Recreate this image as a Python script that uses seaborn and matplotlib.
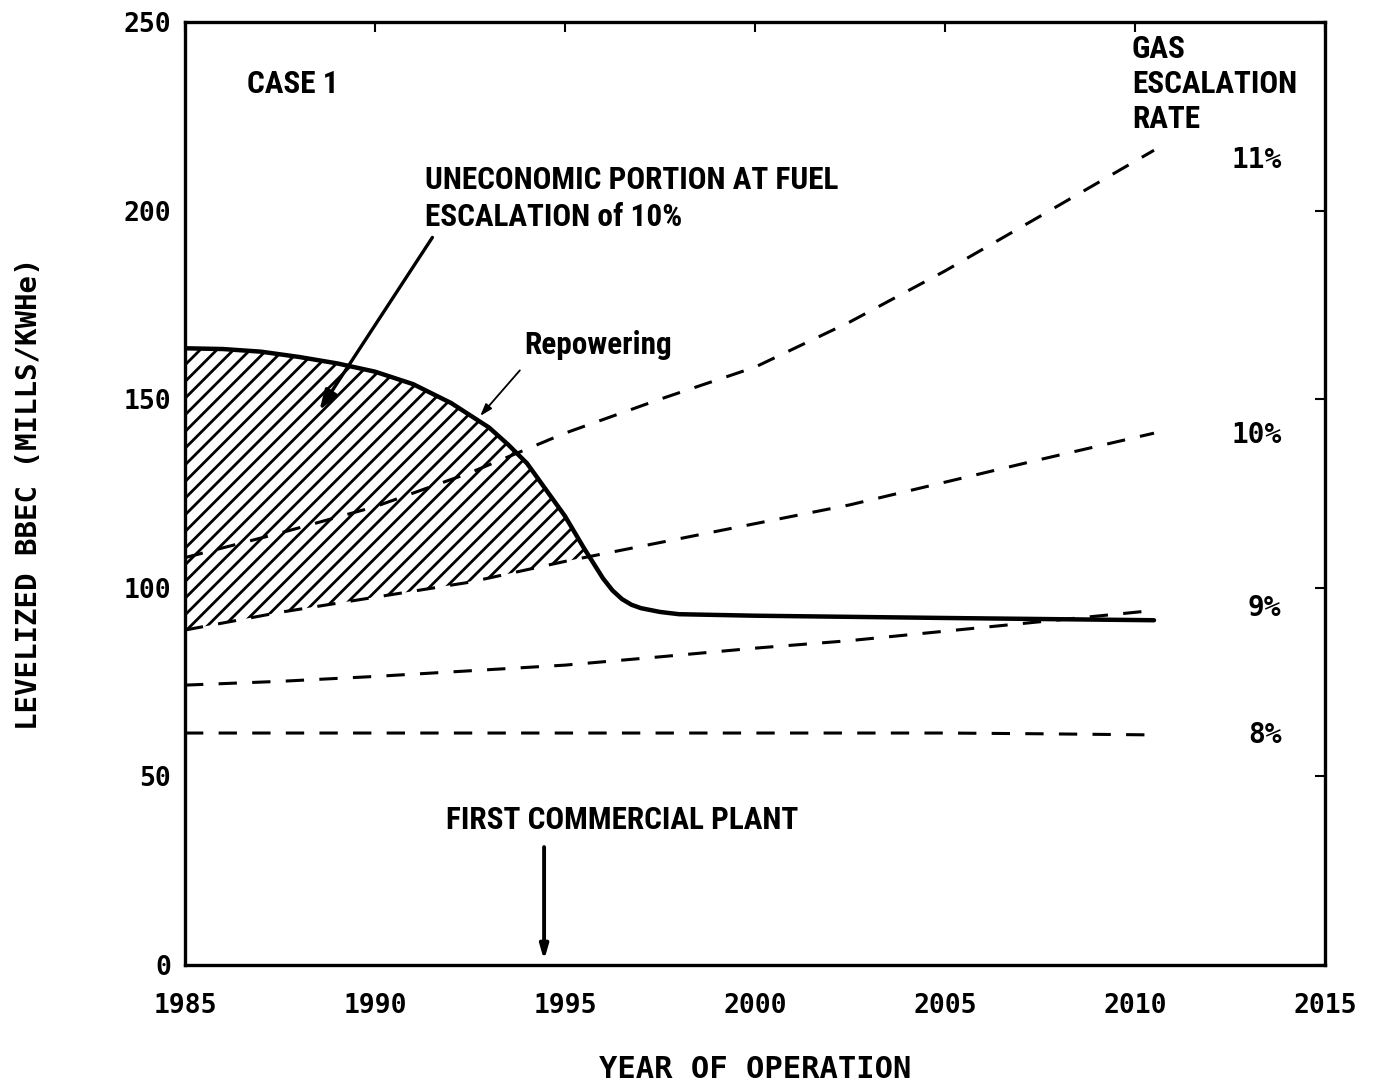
import numpy as np
import pandas as pd
import matplotlib
matplotlib.use("Agg")
import matplotlib.pyplot as plt
import seaborn as sns

# Repowering plant levelized busbar energy cost (mills/kWh)
years_rep = [1985, 1986, 1987, 1988, 1989, 1990, 1991, 1992, 1993, 1993.5,
             1994, 1994.5, 1995, 1995.5, 1996, 1996.25, 1996.5, 1996.75, 1997,
             1997.5, 1998, 2000, 2005, 2010.5]
bbec_rep = [163.5, 163.3, 162.6, 161.2, 159.5, 157.3, 154.0, 149.0, 142.5, 138.0,
            133.0, 126.0, 119.0, 110.5, 102.5, 99.3, 97.0, 95.5, 94.6,
            93.6, 93.0, 92.6, 92.0, 91.4]

# Gas-fired alternative at several fuel escalation rates
years_gas = [1985, 1987.5, 1990, 1992.5, 1995, 1997.5, 2000, 2002.5, 2005, 2007.5, 2010.5]
gas_8 = [61.5, 61.5, 61.5, 61.5, 61.5, 61.5, 61.5, 61.5, 61.5, 61.3, 61.0]
gas_9 = [74.2, 75.2, 76.5, 78.0, 79.5, 81.7, 84.0, 86.0, 88.5, 91.0, 94.0]
gas_10 = [88.8, 93.5, 97.5, 101.5, 107.0, 112.0, 117.0, 122.0, 128.0, 134.0, 141.0]
gas_11 = [108.0, 114.5, 121.5, 130.5, 141.0, 150.0, 158.5, 170.5, 184.0, 198.5, 216.0]
rate_labels = ["8%", "9%", "10%", "11%"]

x_ticks = [1985, 1990, 1995, 2000, 2005, 2010, 2015]
y_ticks = [0, 50, 100, 150, 200, 250]

sns.set_theme(style="white")
plt.rcParams["hatch.color"] = "black"
plt.rcParams["hatch.linewidth"] = 2.0
plt.rcParams["axes.labelcolor"] = "black"
plt.rcParams["text.color"] = "black"

plot_font = "DejaVu Sans Mono"
note_font = ["Liberation Sans Narrow", "Roboto Condensed", "DejaVu Sans"]

fig = plt.figure(figsize=(13.79, 10.86), dpi=100)
ax = fig.add_axes([185 / 1379, 121 / 1086, 1140 / 1379, 943 / 1086])

rep_df = pd.DataFrame({"year": years_rep, "bbec": bbec_rep})
gas_df = pd.DataFrame({
    "year": years_gas * 4,
    "bbec": gas_8 + gas_9 + gas_10 + gas_11,
    "rate": sum([[r] * len(years_gas) for r in rate_labels], []),
})

for rate in rate_labels:
    sub = gas_df[gas_df["rate"] == rate]
    sns.lineplot(data=sub, x="year", y="bbec", ax=ax, color="black",
                 linewidth=2.2, linestyle=(0, (6, 5)), legend=False)

sns.lineplot(data=rep_df, x="year", y="bbec", ax=ax, color="black",
             linewidth=3.2, legend=False)

# Hatched region where repowering is costlier than gas at 10% escalation
rep_x = np.array(years_rep, dtype=float)
rep_y = np.array(bbec_rep, dtype=float)
ten_on_rep = np.interp(rep_x, years_gas, gas_10)
ax.fill_between(rep_x, ten_on_rep, rep_y, where=rep_y >= ten_on_rep,
                interpolate=True, facecolor="none", edgecolor="black",
                hatch="//", linewidth=0)

ax.set_xlim(1985, 2015)
ax.set_ylim(0, 250)
ax.set_xticks(x_ticks)
ax.set_yticks(y_ticks)
ax.set_xticklabels([str(t) for t in x_ticks], fontfamily=plot_font,
                   fontsize=19, fontweight="bold")
ax.set_yticklabels([str(t) for t in y_ticks], fontfamily=plot_font,
                   fontsize=19, fontweight="bold")
ax.tick_params(axis="x", pad=20)
ax.tick_params(axis="y", pad=10)
ax.tick_params(direction="in", length=7, width=1.5, top=True, right=True,
               colors="black")
for s in ax.spines.values():
    s.set_linewidth(2.4)
    s.set_color("black")

ax.set_xlabel("YEAR OF OPERATION", fontfamily=plot_font, fontsize=22,
              fontweight="bold", color="black", va="center")
ax.xaxis.set_label_coords(0.5, -0.111)
ax.set_ylabel("LEVELIZED BBEC (MILLS/KWHe)", fontfamily=plot_font, fontsize=21,
              fontweight="bold", labelpad=58, color="black")

note_kw = dict(family=note_font, fontsize=22.5, fontweight="bold", color="black")
ax.text(1986.63, 233.6, "CASE 1", ha="left", va="center", **note_kw)
ax.text(2009.92, 246.8, "GAS\nESCALATION\nRATE", ha="left", va="top",
        linespacing=1.2, **note_kw)

rate_kw = dict(family=plot_font, fontsize=20, fontweight="bold", color="black",
               ha="right", va="center")
ax.text(2013.85, 213.4, "11%", **rate_kw)
ax.text(2013.85, 140.5, "10%", **rate_kw)
ax.text(2013.85, 94.6, "9%", **rate_kw)
ax.text(2013.85, 61.0, "8%", **rate_kw)

ax.text(1991.32, 212.0, "UNECONOMIC PORTION AT FUEL\nESCALATION of 10%",
        ha="left", va="top", linespacing=1.27, **note_kw)
ax.annotate("", xy=(1988.5, 146.5), xytext=(1991.55, 193.5),
            arrowprops=dict(arrowstyle="-|>,head_length=1.0,head_width=0.35",
                            color="black", lw=2.4))

ax.text(1993.92, 164.4, "Repowering", ha="left", va="center", **note_kw)
ax.annotate("", xy=(1992.72, 145.0), xytext=(1993.86, 158.2),
            arrowprops=dict(arrowstyle="-|>,head_length=0.6,head_width=0.2",
                            color="black", lw=1.3))

ax.text(1991.87, 38.4, "FIRST COMMERCIAL PLANT", ha="left", va="center", **note_kw)
ax.annotate("", xy=(1994.45, 0.5), xytext=(1994.45, 32.0),
            arrowprops=dict(arrowstyle="-|>,head_length=0.7,head_width=0.2",
                            color="black", lw=2.8))

fig.savefig("out.png", dpi=100, facecolor="white")
